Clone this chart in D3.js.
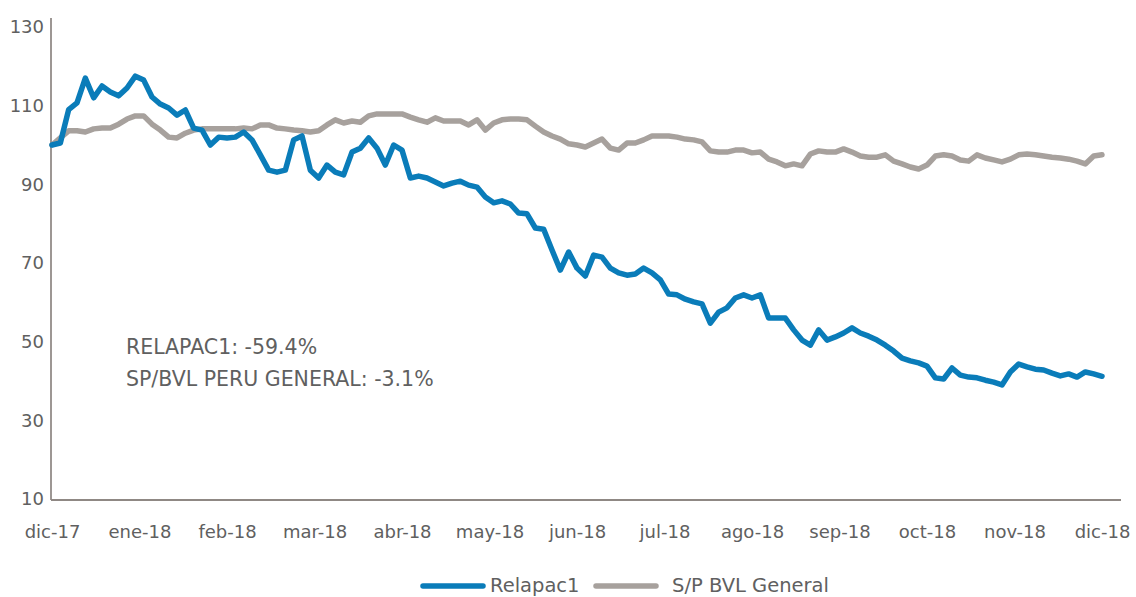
<!DOCTYPE html>
<meta charset="utf-8">
<style>
  body { margin: 0; background: #fff; }
  svg text { font-family: "DejaVu Sans", Roboto, sans-serif; fill: #606060; }
  .line { fill: none; stroke-width: 5.5px; stroke-linejoin: round; stroke-linecap: round; }
</style>
<body>
<script src="https://d3js.org/d3.v7.min.js"></script>
<script>
// month labels, one every 10.5 samples (samples are every 2 trading days)
var months = ["dic-17", "ene-18", "feb-18", "mar-18", "abr-18", "may-18", "jun-18",
  "jul-18", "ago-18", "sep-18", "oct-18", "nov-18", "dic-18"];
var yTicks = [10, 30, 50, 70, 90, 110, 130];

// base 100
var relapac = [100, 100.5, 109, 110.7, 117, 112, 115, 113.5, 112.5, 114.5,
  117.5, 116.5, 112.2, 110.4, 109.4, 107.6, 108.9, 104.3, 103.8, 100,
  102, 101.8, 102, 103.3, 101.3, 97.5, 93.6, 93.1, 93.6, 101.3,
  102.3, 93.6, 91.6, 94.9, 93.1, 92.4, 98.2, 99.2, 101.8, 99.2,
  94.9, 100, 98.7, 91.6, 92.1, 91.6, 90.6, 89.6, 90.3, 90.8,
  89.8, 89.3, 86.8, 85.3, 85.8, 85, 82.7, 82.5, 78.9, 78.6,
  73.3, 68.2, 72.8, 68.7, 66.7, 72, 71.5, 68.7, 67.5, 66.9,
  67.2, 68.7, 67.5, 65.7, 62.1, 61.9, 60.8, 60.1, 59.6, 54.7,
  57.5, 58.6, 61.1, 61.9, 61.1, 61.9, 56, 56, 56, 53,
  50.4, 49.1, 53, 50.4, 51.2, 52.2, 53.5, 52.2, 51.4, 50.4,
  49.1, 47.6, 45.8, 45.1, 44.6, 43.8, 40.8, 40.5, 43.3, 41.5,
  41, 40.8, 40.2, 39.7, 39, 42.3, 44.3, 43.6, 43, 42.8,
  42, 41.3, 41.8, 41, 42.3, 41.8, 41.2];

var bvl = [100, 101.8, 103.6, 103.6, 103.3, 104.1, 104.3, 104.3, 105.3, 106.6,
  107.4, 107.4, 105.3, 103.8, 102, 101.8, 103, 103.8, 104.1, 104.1,
  104.1, 104.1, 104.1, 104.3, 104.1, 105.1, 105.1, 104.3, 104.1, 103.8,
  103.6, 103.3, 103.6, 105.1, 106.4, 105.6, 106.1, 105.8, 107.4, 107.9,
  107.9, 107.9, 107.9, 107.1, 106.4, 105.8, 106.9, 106.1, 106.1, 106.1,
  105.1, 106.4, 103.8, 105.6, 106.4, 106.6, 106.6, 106.4, 104.8, 103.3,
  102.3, 101.5, 100.3, 100, 99.5, 100.5, 101.5, 99.2, 98.7, 100.5,
  100.5, 101.3, 102.3, 102.3, 102.3, 102, 101.5, 101.3, 100.8, 98.5,
  98.2, 98.2, 98.7, 98.7, 98, 98.2, 96.4, 95.7, 94.7, 95.2,
  94.7, 97.7, 98.5, 98.2, 98.2, 99, 98.2, 97.2, 96.9, 96.9,
  97.5, 95.9, 95.2, 94.4, 93.9, 94.9, 97.2, 97.5, 97.2, 96.2,
  95.9, 97.5, 96.7, 96.2, 95.7, 96.4, 97.5, 97.7, 97.5, 97.2,
  96.9, 96.7, 96.4, 95.9, 95.2, 97.2, 97.5];

var notes = ["RELAPAC1: -59.4%", "SP/BVL PERU GENERAL: -3.1%"];
var seriesNames = ["Relapac1", "S/P BVL General"];
var colors = ["#0a7cb9", "#a7a19d"];

var width = 1136, height = 597;
var margin = { top: 27, right: 34, bottom: 98, left: 52 };

var svg = d3.select("body").append("svg")
  .attr("width", width)
  .attr("height", height);

var x = d3.scaleLinear().domain([0, 126]).range([margin.left, 1102]);
var y = d3.scaleLinear().domain([10, 130]).range([height - margin.bottom, margin.top]);

// axes lines
svg.append("line")
  .attr("x1", margin.left - 1).attr("x2", margin.left - 1)
  .attr("y1", 18).attr("y2", y(10) + 1)
  .attr("stroke", "#7d7470").attr("stroke-width", 1.5);
svg.append("line")
  .attr("x1", margin.left - 1).attr("x2", 1121)
  .attr("y1", y(10) + 1).attr("y2", y(10) + 1)
  .attr("stroke", "#8f8884").attr("stroke-width", 2);

// y tick labels
svg.append("g")
  .attr("transform", "translate(" + (margin.left - 8) + ",0)")
  .call(d3.axisLeft(y).tickValues(yTicks).tickSize(0).tickPadding(0))
  .call(function(g) { g.select(".domain").remove(); })
  .selectAll("text")
  .style("font-size", "18px")
  .attr("fill", "#606060");

// x tick labels
svg.append("g")
  .attr("transform", "translate(0," + (y(10) + 26) + ")")
  .call(d3.axisBottom(x)
    .tickValues(months.map(function(d, i) { return i * 10.5; }))
    .tickFormat(function(d, i) { return months[i]; })
    .tickSize(0).tickPadding(0))
  .call(function(g) { g.select(".domain").remove(); })
  .selectAll("text")
  .style("font-size", "18px")
  .attr("fill", "#606060");

var line = d3.line()
  .x(function(d, i) { return x(i); })
  .y(function(d) { return y(d); });

// gray first so blue sits on top
svg.append("path")
  .datum(bvl)
  .attr("class", "line")
  .attr("stroke", colors[1])
  .attr("d", line);

svg.append("path")
  .datum(relapac)
  .attr("class", "line")
  .attr("stroke", colors[0])
  .attr("d", line);

// annotation
svg.selectAll(".note")
  .data(notes)
  .enter().append("text")
  .attr("class", "note")
  .attr("x", 126)
  .attr("y", function(d, i) { return 354 + i * 32; })
  .style("font-size", "20.5px")
  .text(function(d) { return d; });

// legend
var legX = [423, 596], legText = [490, 672];
seriesNames.forEach(function(name, i) {
  svg.append("line")
    .attr("x1", legX[i]).attr("x2", legX[i] + 60)
    .attr("y1", 586).attr("y2", 586)
    .attr("stroke", colors[i]).attr("stroke-width", 5.5)
    .attr("stroke-linecap", "round");
  svg.append("text")
    .attr("x", legText[i]).attr("y", 592)
    .style("font-size", "19.5px")
    .text(name);
});
</script>
</body>
